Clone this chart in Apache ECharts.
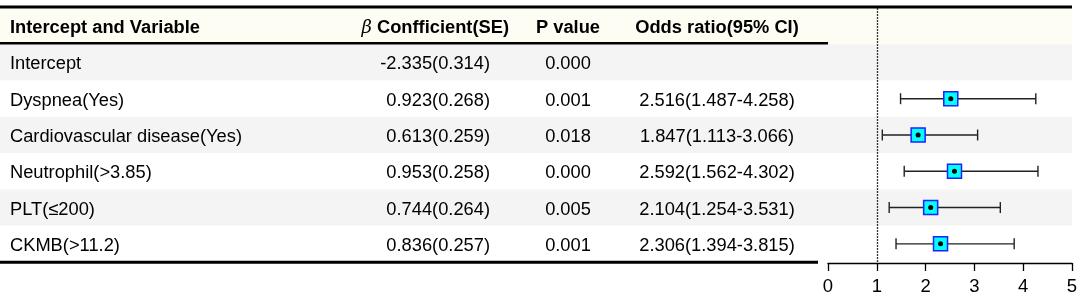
<!DOCTYPE html>
<html>
<head>
<meta charset="utf-8">
<script src="https://cdn.jsdelivr.net/npm/echarts@6/dist/echarts.min.js"></script>
<style>
  html, body { margin: 0; padding: 0; background: #fff; }
  #chart { width: 1084px; height: 302px; }
</style>
</head>
<body>
<div id="chart"></div>
<script>
// 表格 + 森林图：左侧文字列，右侧 OR 及 95% CI

const headers = ['Intercept and Variable', '{b|β} Confficient(SE)', 'P value', 'Odds ratio(95% CI)']
const variables = ['Intercept', 'Dyspnea(Yes)', 'Cardiovascular disease(Yes)', 'Neutrophil(>3.85)', 'PLT(≤200)', 'CKMB(>11.2)']
const coefSE = ['-2.335(0.314)', '0.923(0.268)', '0.613(0.259)', '0.953(0.258)', '0.744(0.264)', '0.836(0.257)']
const pValues = ['0.000', '0.001', '0.018', '0.000', '0.005', '0.001']
const orLabels = ['', '2.516(1.487-4.258)', '1.847(1.113-3.066)', '2.592(1.562-4.302)', '2.104(1.254-3.531)', '2.306(1.394-3.815)']
const orValues = [null, 2.516, 1.847, 2.592, 2.104, 2.306]
const ciLow = [null, 1.487, 1.113, 1.562, 1.254, 1.394]
const ciHigh = [null, 4.258, 3.066, 4.302, 3.531, 3.815]
const xTicks = [0, 1, 2, 3, 4, 5]

const FONT = '"Liberation Sans", Arial, "Noto Sans CJK SC", sans-serif'
const rows = ['header'].concat(variables)

// column anchors in pixel units of grid 0 (x axis 0..1072)
const cols = [
  { x: 10, align: 'left' },
  { x: 490, headX: 509, align: 'right' },
  { x: 568, align: 'center' },
  { x: 717, align: 'center' },
]

function rowTexts(i) {
  if (i === 0) return headers
  const k = i - 1
  return [variables[k], coefSE[k], pValues[k], orLabels[k]]
}

const chart = echarts.init(document.getElementById('chart'))

const forest = variables
  .map((v, k) => ({ k, lo: ciLow[k], hi: ciHigh[k], or: orValues[k] }))
  .filter((d) => d.or != null)

chart.setOption({
  animation: false,
  backgroundColor: '#fff',
  grid: [
    { left: 0, width: 1072, top: 8, height: 254 },
    { left: 828, width: 244, top: 8, height: 254 },
  ],
  xAxis: [
    { gridIndex: 0, type: 'value', min: 0, max: 1072, show: false },
    {
      gridIndex: 1,
      type: 'value',
      min: xTicks[0],
      max: xTicks[xTicks.length - 1],
      interval: 1,
      position: 'bottom',
      offset: 1,
      axisLine: { show: true, lineStyle: { color: '#000', width: 1.3 } },
      axisTick: { show: true, length: 8, lineStyle: { color: '#000', width: 1.3 } },
      axisLabel: { color: '#000', fontSize: 18.5, fontFamily: FONT, margin: 15 },
      splitLine: { show: false },
    },
  ],
  yAxis: [
    {
      gridIndex: 0,
      type: 'category',
      data: rows,
      inverse: true,
      axisLine: { show: false },
      axisTick: { show: false },
      axisLabel: { show: false },
      splitLine: { show: false },
      splitArea: {
        show: true,
        areaStyle: { color: ['#fdfdf3', '#f4f4f4', '#ffffff', '#f4f4f4', '#ffffff', '#f4f4f4', '#ffffff'] },
      },
    },
    {
      gridIndex: 1,
      type: 'category',
      data: rows,
      inverse: true,
      show: false,
    },
  ],
  graphic: [
    { type: 'line', shape: { x1: 0, y1: 7, x2: 1072, y2: 7 }, style: { stroke: '#000', lineWidth: 3 }, z: 100 },
    { type: 'line', shape: { x1: 0, y1: 43.3, x2: 828, y2: 43.3 }, style: { stroke: '#000', lineWidth: 2.6 }, z: 100 },
    { type: 'line', shape: { x1: 0, y1: 262.3, x2: 818, y2: 262.3 }, style: { stroke: '#000', lineWidth: 3 }, z: 100 },
  ],
  series: [
    {
      // table text
      type: 'custom',
      xAxisIndex: 0,
      yAxisIndex: 0,
      silent: true,
      data: rows.map((r, i) => [0, i]),
      renderItem(params, api) {
        const i = api.value(1)
        const y = api.coord([0, i])[1] + 2
        const texts = rowTexts(i)
        return {
          type: 'group',
          children: texts.map((t, c) => {
            const col = cols[c]
            const x = api.coord([i === 0 && col.headX ? col.headX : col.x, i])[0]
            return {
              type: 'text',
              style: {
                text: t,
                x,
                y,
                align: col.align,
                verticalAlign: 'middle',
                fontSize: 18.3,
                fontFamily: FONT,
                fontWeight: i === 0 ? 'bold' : 'normal',
                fill: '#000',
                rich: {
                  b: { fontStyle: 'italic', fontWeight: 'normal', fontFamily: '"DejaVu Serif", serif', fontSize: 18, fill: '#000' },
                },
              },
            }
          }),
        }
      },
    },
    {
      // error bars
      type: 'custom',
      xAxisIndex: 1,
      yAxisIndex: 1,
      silent: true,
      data: forest.map((d) => [d.lo, d.hi, d.k + 1]),
      renderItem(params, api) {
        const a = api.coord([api.value(0), api.value(2)])
        const b = api.coord([api.value(1), api.value(2)])
        const st = { stroke: '#222', lineWidth: 1.4 }
        return {
          type: 'group',
          children: [
            { type: 'line', shape: { x1: a[0], y1: a[1], x2: b[0], y2: b[1] }, style: st },
            { type: 'line', shape: { x1: a[0], y1: a[1] - 5.5, x2: a[0], y2: a[1] + 5.5 }, style: st },
            { type: 'line', shape: { x1: b[0], y1: b[1] - 5.5, x2: b[0], y2: b[1] + 5.5 }, style: st },
          ],
        }
      },
    },
    {
      type: 'scatter',
      xAxisIndex: 1,
      yAxisIndex: 1,
      silent: true,
      z: 3,
      symbol: 'rect',
      symbolSize: 14,
      itemStyle: { color: '#00ffff', borderColor: '#1f1fff', borderWidth: 1.5, opacity: 1 },
      data: forest.map((d) => [d.or, d.k + 1]),
      markLine: {
        silent: true,
        symbol: 'none',
        label: { show: false },
        lineStyle: { type: [2, 1], color: '#333', width: 1.3 },
        data: [{ xAxis: 1 }],
      },
    },
    {
      type: 'scatter',
      xAxisIndex: 1,
      yAxisIndex: 1,
      silent: true,
      z: 4,
      symbol: 'circle',
      symbolSize: 5,
      itemStyle: { color: '#000', opacity: 1 },
      data: forest.map((d) => [d.or, d.k + 1]),
    },
  ],
})
</script>
</body>
</html>
